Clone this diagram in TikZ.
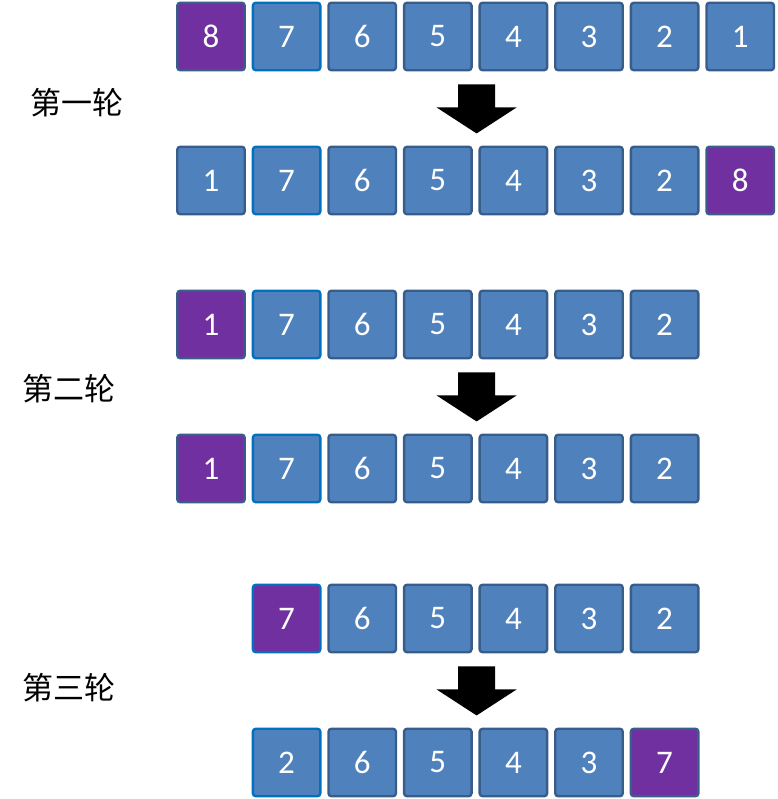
\documentclass[tikz,border=0pt]{standalone}
\usepackage{fontspec}
\setmainfont{Carlito}
\newfontfamily\cjk{Noto Sans CJK SC}
\usepackage{xcolor}
\usepackage{tikz}
\usetikzlibrary{calc, positioning}
\definecolor{CellBlue}{HTML}{4F81BD}
\definecolor{CellEdge}{HTML}{385D8A}
\definecolor{Hot}{HTML}{7030A0}
\definecolor{Mark}{HTML}{0070C0}
\tikzset{
  cell/.style={draw=CellEdge, fill=CellBlue, line width=2.4pt, rounded corners=3pt,
    minimum size=67.5pt, inner sep=0pt, text=white, font=\fontsize{33}{36}\selectfont},
  roundlabel/.style={font=\cjk\fontsize{31}{34}\selectfont, text=black},
  bigarrow/.pic={
    \fill[black] (-18.5,0) -- (18.5,0) -- (18.5,23) -- (40,23) -- (0,49)
      -- (-40,23) -- (-18.5,23) -- cycle;
  },
}

\begin{document}
\begin{tikzpicture}[x=1pt, y=-1pt]
  \useasboundingbox (0,0) rectangle (777,799);

  % First round
  \foreach \v/\f/\d [count=\i] in {8/Hot/CellEdge,7/CellBlue/Mark,6/CellBlue/CellEdge,5/CellBlue/CellEdge,
      4/CellBlue/CellEdge,3/CellBlue/CellEdge,2/CellBlue/CellEdge,1/CellBlue/CellEdge}
    \node[cell, fill=\f, draw=\d] (a\i) at ({211+75.6*(\i-1)},36.5) {\v};
  \foreach \v/\f/\d [count=\i] in {1/CellBlue/CellEdge,7/CellBlue/Mark,6/CellBlue/CellEdge,5/CellBlue/CellEdge,
      4/CellBlue/CellEdge,3/CellBlue/CellEdge,2/CellBlue/CellEdge,8/Hot/CellEdge}
    \node[cell, fill=\f, draw=\d] (b\i) at ({211+75.6*(\i-1)},180.5) {\v};

  % Second round
  \foreach \v/\f/\d [count=\i] in {1/Hot/CellEdge,7/CellBlue/Mark,6/CellBlue/CellEdge,5/CellBlue/CellEdge,
      4/CellBlue/CellEdge,3/CellBlue/CellEdge,2/CellBlue/CellEdge}
    \node[cell, fill=\f, draw=\d] (c\i) at ({211+75.6*(\i-1)},324.5) {\v};
  \foreach \v/\f/\d [count=\i] in {1/Hot/CellEdge,7/CellBlue/Mark,6/CellBlue/CellEdge,5/CellBlue/CellEdge,
      4/CellBlue/CellEdge,3/CellBlue/CellEdge,2/CellBlue/CellEdge}
    \node[cell, fill=\f, draw=\d] (d\i) at ({211+75.6*(\i-1)},468.5) {\v};

  % Third round
  \foreach \v/\f/\d [count=\i from 2] in {7/Hot/Mark,6/CellBlue/CellEdge,5/CellBlue/CellEdge,
      4/CellBlue/CellEdge,3/CellBlue/CellEdge,2/CellBlue/CellEdge}
    \node[cell, fill=\f, draw=\d] (e\i) at ({211+75.6*(\i-1)},618.5) {\v};
  \foreach \v/\f/\d [count=\i from 2] in {2/CellBlue/Mark,6/CellBlue/CellEdge,5/CellBlue/CellEdge,
      4/CellBlue/CellEdge,3/CellBlue/CellEdge,7/Hot/CellEdge}
    \node[cell, fill=\f, draw=\d] (f\i) at ({211+75.6*(\i-1)},762.5) {\v};

  % Arrows between rows
  \pic at ($(a4.south)!0.5!(a5.south)+(1,13)$) {bigarrow};
  \pic at ($(c4.south)!0.5!(c5.south)+(1,13)$) {bigarrow};
  \pic at ($(e4.south)!0.5!(e5.south)+(1,13)$) {bigarrow};

  % Labels
  \node[roundlabel] (r1) at (77,103) {第一轮};
  \node[roundlabel] (r2) at (69,389) {第二轮};
  \node[roundlabel] (r3) at (69,688) {第三轮};
\end{tikzpicture}
\end{document}
